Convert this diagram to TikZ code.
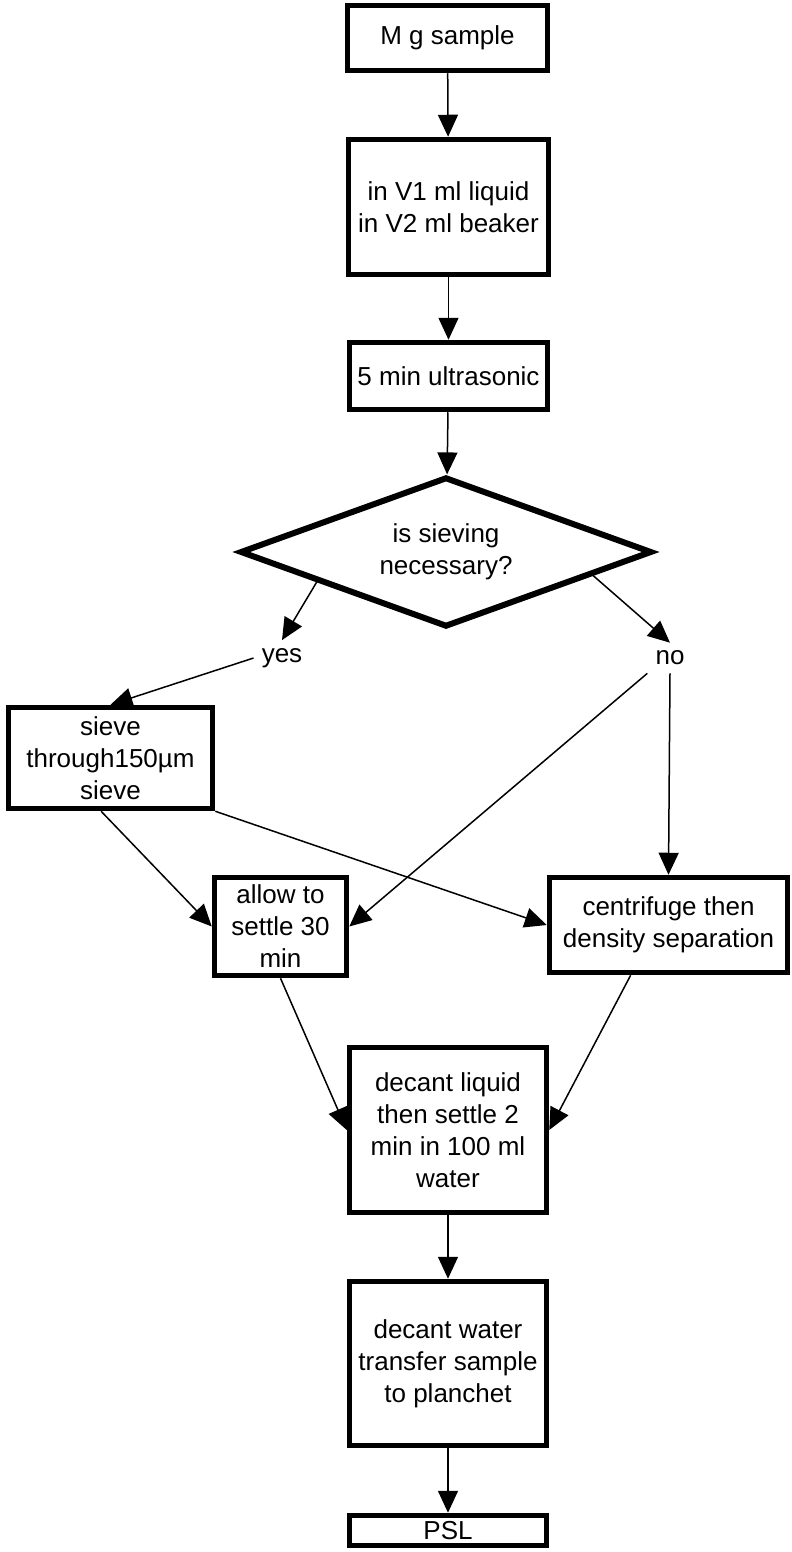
\documentclass[tikz,border=0pt]{standalone}
\usepackage{fontspec}
\setmainfont{Liberation Sans}
\usetikzlibrary{shapes.geometric,arrows.meta}

\tikzset{
  box/.style={draw, line width=5.5pt, align=center, inner sep=0pt,
    font=\fontsize{26}{32}\selectfont},
  decision/.style={draw, diamond, aspect=2.7, line width=6pt, align=center, inner sep=0pt,
    minimum width=412pt, minimum height=150pt, font=\fontsize{26}{32}\selectfont},
  answer/.style={inner sep=8pt, font=\fontsize{26}{32}\selectfont},
  flow/.style={line width=1.5pt, -{Triangle[length=22pt,width=20pt]}}
}

\begin{document}
\begin{tikzpicture}[x=1pt,y=-1pt]
\useasboundingbox (0,0) rectangle (792,1552);

\node[box, minimum width=200pt, minimum height=65pt] (sample) at (447.5,38) {M g sample};
\node[box, minimum width=200pt, minimum height=135pt] (liquid) at (448.5,207) {in V1 ml liquid\\in V2 ml beaker};
\node[box, minimum width=198pt, minimum height=67pt] (ultra) at (448.5,376) {5 min ultrasonic};
\node[decision] (sieving) at (446,552) {is sieving\\necessary?};

\node[answer] (yes) at (282,658) {yes};
\node[answer] (no) at (670,658) {no};

\node[box, minimum width=204pt, minimum height=101pt] (sieve) at (110.5,758) {sieve\\through150µm\\sieve};
\node[box, minimum width=132pt, minimum height=98pt] (settle) at (280.5,926.5) {allow to\\settle 30\\min};
\node[box, minimum width=238pt, minimum height=95pt] (centri) at (668.5,925) {centrifuge then\\density separation};

\node[box, minimum width=197pt, minimum height=165pt] (decant) at (448,1130) {decant liquid\\then settle 2\\min in 100 ml\\water};
\node[box, minimum width=197pt, minimum height=164pt] (transfer) at (448,1363.5) {decant water\\transfer sample\\to planchet};
\node[box, minimum width=197pt, minimum height=30pt] (psl) at (448,1530.5) {PSL};

\draw[flow] (sample) -- (liquid);
\draw[flow] (liquid) -- (ultra);
\draw[flow] (ultra) -- (sieving);

\draw[flow] (sieving.193) -- (yes.north);
\draw[flow] (sieving.-9) -- (no.north);

\draw[flow] (yes.west) -- (sieve.north);
\draw[flow] (no.south west) -- (settle.east);
\draw[flow] (no.south) -- (centri.north);

\draw[flow] (sieve.-100) -- (settle.west);
\draw[flow] (sieve.south east) -- (centri.west);

\draw[flow] (settle.south) -- (decant.west);
\draw[flow] (centri.-127) -- (decant.east);

\draw[flow] (decant) -- (transfer);
\draw[flow] (transfer) -- (psl);
\end{tikzpicture}
\end{document}
